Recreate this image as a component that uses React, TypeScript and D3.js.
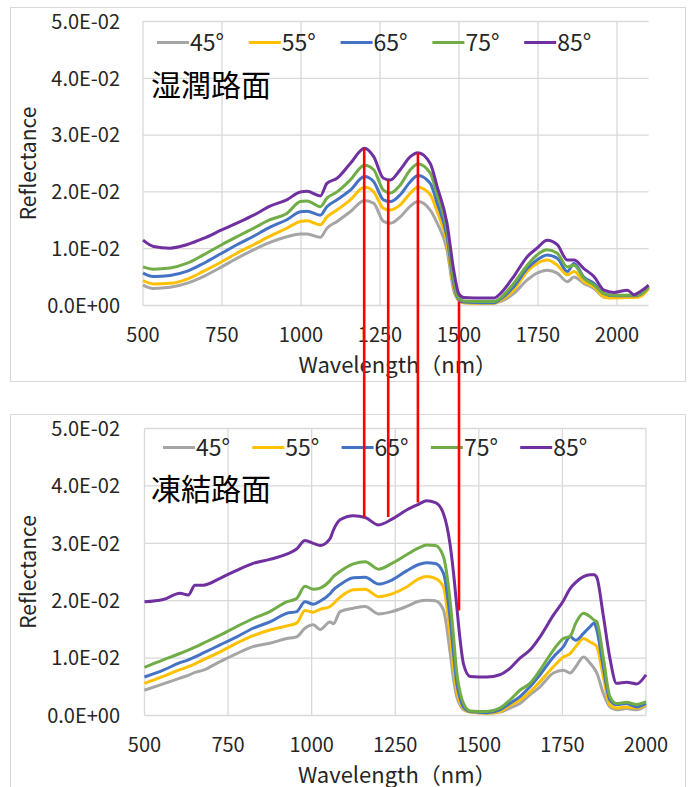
import React from "react";
import * as d3 from "d3";

const angleLabels = ["45°", "55°", "65°", "75°", "85°"];
const angleColors = ["#A5A5A5", "#FFC000", "#4472C4", "#70AD47", "#7030A0"];

const yTickValues = [0, 0.01, 0.02, 0.03, 0.04, 0.05];
const xTickValues = [500, 750, 1000, 1250, 1500, 1750, 2000];

// 湿潤路面 (wet road)
const wetWavelength = [
  500, 533, 586, 638, 691, 749, 797, 850, 902, 955,
  998, 1019, 1061, 1082, 1114, 1156, 1201, 1230, 1261, 1283,
  1314, 1346, 1370, 1409, 1431, 1462, 1483, 1499, 1515, 1578,
  1610, 1631, 1673, 1716, 1747, 1779, 1811, 1843, 1864, 1895,
  1927, 1959, 1990, 2033, 2054, 2075, 2100,
];
const wet45 = [
  0.0036, 0.0030, 0.0032, 0.0039, 0.0051, 0.0068, 0.0083, 0.0098, 0.0111, 0.0121,
  0.0126, 0.0126, 0.0120, 0.0136, 0.0148, 0.0165, 0.0185, 0.0180, 0.0148, 0.0145,
  0.0156, 0.0175, 0.0183, 0.0168, 0.0145, 0.0098, 0.0027, 0.0009, 0.0005, 0.0004,
  0.0004, 0.0007, 0.0021, 0.0045, 0.0057, 0.0062, 0.0057, 0.0042, 0.0050, 0.0039,
  0.0030, 0.0015, 0.0014, 0.0015, 0.0016, 0.0018, 0.0030,
];
const wet55 = [
  0.0044, 0.0038, 0.0039, 0.0046, 0.0060, 0.0077, 0.0092, 0.0107, 0.0122, 0.0136,
  0.0148, 0.0149, 0.0142, 0.0156, 0.0168, 0.0186, 0.0208, 0.0200, 0.0171, 0.0168,
  0.0177, 0.0198, 0.0208, 0.0195, 0.0165, 0.0110, 0.0033, 0.0010, 0.0005, 0.0004,
  0.0004, 0.0009, 0.0027, 0.0060, 0.0074, 0.0080, 0.0071, 0.0054, 0.0060, 0.0042,
  0.0033, 0.0015, 0.0013, 0.0014, 0.0014, 0.0016, 0.0030,
];
const wet65 = [
  0.0057, 0.0051, 0.0053, 0.0060, 0.0074, 0.0092, 0.0107, 0.0122, 0.0138, 0.0151,
  0.0165, 0.0166, 0.0159, 0.0174, 0.0186, 0.0203, 0.0227, 0.0218, 0.0186, 0.0183,
  0.0195, 0.0218, 0.0229, 0.0215, 0.0180, 0.0121, 0.0039, 0.0011, 0.0006, 0.0005,
  0.0005, 0.0011, 0.0033, 0.0065, 0.0080, 0.0089, 0.0083, 0.0060, 0.0074, 0.0050,
  0.0039, 0.0021, 0.0017, 0.0017, 0.0017, 0.0020, 0.0033,
];
const wet75 = [
  0.0068, 0.0064, 0.0066, 0.0074, 0.0089, 0.0107, 0.0121, 0.0136, 0.0151, 0.0162,
  0.0183, 0.0184, 0.0174, 0.0189, 0.0200, 0.0221, 0.0247, 0.0239, 0.0203, 0.0198,
  0.0212, 0.0239, 0.0249, 0.0233, 0.0195, 0.0133, 0.0045, 0.0013, 0.0008, 0.0007,
  0.0007, 0.0013, 0.0039, 0.0071, 0.0089, 0.0098, 0.0092, 0.0068, 0.0071, 0.0048,
  0.0036, 0.0021, 0.0018, 0.0018, 0.0018, 0.0020, 0.0033,
];
const wet85 = [
  0.0115, 0.0104, 0.0101, 0.0107, 0.0118, 0.0133, 0.0145, 0.0159, 0.0175, 0.0186,
  0.0200, 0.0201, 0.0193, 0.0215, 0.0224, 0.0250, 0.0277, 0.0262, 0.0224, 0.0221,
  0.0239, 0.0262, 0.0269, 0.0250, 0.0209, 0.0145, 0.0063, 0.0021, 0.0014, 0.0013,
  0.0013, 0.0021, 0.0051, 0.0086, 0.0101, 0.0115, 0.0107, 0.0080, 0.0080, 0.0065,
  0.0051, 0.0027, 0.0023, 0.0027, 0.0019, 0.0025, 0.0036,
];

// 凍結路面 (frozen road)
const frozenWavelength = [
  500, 556, 606, 631, 651, 676, 726, 776, 825, 875,
  925, 955, 980, 1005, 1025, 1055, 1065, 1085, 1125, 1160,
  1200, 1240, 1284, 1320, 1344, 1370, 1394, 1414, 1424, 1434,
  1444, 1454, 1474, 1524, 1563, 1593, 1623, 1653, 1683, 1723,
  1753, 1773, 1790, 1813, 1833, 1845, 1853, 1872, 1892, 1912,
  1942, 1972, 2000,
];
const frozen45 = [
  0.0044, 0.0055, 0.0065, 0.0070, 0.0075, 0.0079, 0.0094, 0.0108, 0.0120, 0.0126,
  0.0134, 0.0137, 0.0152, 0.0158, 0.0150, 0.0163, 0.0160, 0.0181, 0.0187, 0.0190,
  0.0177, 0.0181, 0.0190, 0.0199, 0.0201, 0.0200, 0.0184, 0.0110, 0.0065, 0.0033,
  0.0018, 0.0010, 0.0006, 0.0004, 0.0006, 0.0013, 0.0021, 0.0036, 0.0050, 0.0074,
  0.0079, 0.0074, 0.0085, 0.0102, 0.0091, 0.0082, 0.0074, 0.0039, 0.0015, 0.0010,
  0.0012, 0.0010, 0.0018,
];
const frozen55 = [
  0.0056, 0.0068, 0.0080, 0.0085, 0.0090, 0.0097, 0.0111, 0.0126, 0.0139, 0.0149,
  0.0156, 0.0161, 0.0183, 0.0180, 0.0185, 0.0190, 0.0195, 0.0206, 0.0219, 0.0220,
  0.0207, 0.0212, 0.0224, 0.0238, 0.0242, 0.0239, 0.0224, 0.0140, 0.0085, 0.0044,
  0.0022, 0.0013, 0.0006, 0.0004, 0.0007, 0.0018, 0.0027, 0.0041, 0.0059, 0.0085,
  0.0102, 0.0108, 0.0120, 0.0134, 0.0128, 0.0124, 0.0120, 0.0068, 0.0018, 0.0013,
  0.0015, 0.0013, 0.0019,
];
const frozen65 = [
  0.0067, 0.0079, 0.0092, 0.0097, 0.0102, 0.0109, 0.0123, 0.0137, 0.0152, 0.0163,
  0.0178, 0.0181, 0.0198, 0.0194, 0.0199, 0.0212, 0.0219, 0.0228, 0.0240, 0.0241,
  0.0229, 0.0236, 0.0252, 0.0263, 0.0266, 0.0265, 0.0248, 0.0170, 0.0110, 0.0056,
  0.0030, 0.0015, 0.0007, 0.0005, 0.0010, 0.0021, 0.0033, 0.0050, 0.0071, 0.0102,
  0.0120, 0.0137, 0.0131, 0.0143, 0.0155, 0.0161, 0.0149, 0.0085, 0.0027, 0.0019,
  0.0021, 0.0015, 0.0021,
];
const frozen75 = [
  0.0084, 0.0097, 0.0108, 0.0114, 0.0119, 0.0126, 0.0140, 0.0155, 0.0169, 0.0181,
  0.0198, 0.0204, 0.0225, 0.0220, 0.0222, 0.0235, 0.0242, 0.0251, 0.0264, 0.0268,
  0.0255, 0.0265, 0.0280, 0.0292, 0.0297, 0.0296, 0.0277, 0.0200, 0.0140, 0.0074,
  0.0040, 0.0021, 0.0008, 0.0007, 0.0013, 0.0027, 0.0044, 0.0056, 0.0079, 0.0114,
  0.0134, 0.0138, 0.0161, 0.0178, 0.0172, 0.0166, 0.0163, 0.0102, 0.0033, 0.0021,
  0.0023, 0.0019, 0.0024,
];
const frozen85 = [
  0.0198, 0.0202, 0.0213, 0.0210, 0.0227, 0.0227, 0.0239, 0.0253, 0.0265, 0.0272,
  0.0281, 0.0290, 0.0305, 0.0300, 0.0296, 0.0308, 0.0323, 0.0341, 0.0348, 0.0345,
  0.0332, 0.0342, 0.0358, 0.0368, 0.0374, 0.0371, 0.0352, 0.0298, 0.0250, 0.0190,
  0.0132, 0.0090, 0.0068, 0.0067, 0.0071, 0.0082, 0.0100, 0.0114, 0.0137, 0.0175,
  0.0200, 0.0221, 0.0232, 0.0242, 0.0245, 0.0245, 0.0240, 0.0175, 0.0100, 0.0056,
  0.0058, 0.0055, 0.0071,
];

// red marker lines: wavelength (upper chart), reflectance where they start (upper) and end (lower)
const markerWavelength = [1200, 1276, 1370, 1500];
const markerUpperValue = [0.0277, 0.0221, 0.0269, 0.0007];
const markerLowerValue = [0.0346, 0.0346, 0.0371, 0.0183];

const FONT = "'Noto Sans CJK JP', 'Noto Sans', sans-serif";
const GRID = "#D9D9D9";

const sci = (v: number) => {
  if (v === 0) return "0.0E+00";
  const [m, e] = v.toExponential(1).split("e");
  const n = parseInt(e, 10);
  return `${m}E${n < 0 ? "-" : "+"}${String(Math.abs(n)).padStart(2, "0")}`;
};

type PanelProps = {
  frameY: number;
  frameH: number;
  x: d3.ScaleLinear<number, number>;
  y: d3.ScaleLinear<number, number>;
  wavelengths: number[];
  series: number[][];
  surfaceLabel: string;
  legendY: number;
  legendX0: number;
  legendStep: number;
  labelY: number;
};

function Panel(p: PanelProps) {
  const [left, right] = p.x.range();
  const [bottom, top] = p.y.range();
  const line = d3
    .line<number>()
    .x((_, i) => p.x(p.wavelengths[i]))
    .y((d) => p.y(d))
    .curve(d3.curveMonotoneX);
  return (
    <g>
      <rect x={10.5} y={p.frameY + 0.5} width={675} height={p.frameH} fill="#fff" stroke={GRID} strokeWidth={1} />
      {yTickValues.map((v) => (
        <line key={"gy" + v} x1={left} x2={right} y1={p.y(v)} y2={p.y(v)} stroke={GRID} strokeWidth={1.3} />
      ))}
      {xTickValues.map((v) => (
        <line key={"gx" + v} x1={p.x(v)} x2={p.x(v)} y1={top} y2={bottom} stroke={GRID} strokeWidth={1.3} />
      ))}
      {yTickValues.map((v) => (
        <text key={"ty" + v} x={120} y={p.y(v)} dy="0.36em" textAnchor="end" fontSize={20} fill="#262626" fontFamily={FONT}>
          {sci(v)}
        </text>
      ))}
      {xTickValues.map((v) => (
        <text key={"tx" + v} x={p.x(v)} y={bottom + 36.5} textAnchor="middle" fontSize={20} fill="#262626" fontFamily={FONT}>
          {v}
        </text>
      ))}
      <text x={(left + right) / 2 + 2} y={bottom + 67} textAnchor="middle" fontSize={22} fill="#262626" fontFamily={FONT}>
        Wavelength（nm）
      </text>
      <text transform={`translate(36,${(top + bottom) / 2}) rotate(-90)`} textAnchor="middle" fontSize={21} fill="#262626" fontFamily={FONT}>
        Reflectance
      </text>
      {p.series.map((s, i) => (
        <path key={"s" + i} d={line(s) || ""} fill="none" stroke={angleColors[i]} strokeWidth={3} strokeLinejoin="round" />
      ))}
      {angleLabels.map((lab, i) => {
        const lx = p.legendX0 + i * p.legendStep;
        return (
          <g key={"lg" + i}>
            <line x1={lx} x2={lx + 32} y1={p.legendY} y2={p.legendY} stroke={angleColors[i]} strokeWidth={3} />
            <text x={lx + 33} y={p.legendY + 8} fontSize={23} fill="#262626" fontFamily={FONT}>
              {lab}
            </text>
          </g>
        );
      })}
      <text x={151} y={p.labelY} fontSize={30} fill="#000" fontFamily={FONT}>
        {p.surfaceLabel}
      </text>
    </g>
  );
}

export default function App() {
  const xWet = d3.scaleLinear().domain([500, 2100]).range([143, 648.6]);
  const yWet = d3.scaleLinear().domain([0, 0.05]).range([305.5, 21.5]);
  const xFrozen = d3.scaleLinear().domain([500, 2000]).range([144.5, 646]);
  const yFrozen = d3.scaleLinear().domain([0, 0.05]).range([715.5, 428.5]);

  return (
    <svg width={692} height={787} style={{ position: "absolute", left: 0, top: 0, background: "#fff" }}>
      <rect x={0} y={0} width={692} height={787} fill="#fff" />
      <Panel
        frameY={7}
        frameH={374}
        x={xWet}
        y={yWet}
        wavelengths={wetWavelength}
        series={[wet45, wet55, wet65, wet75, wet85]}
        surfaceLabel="湿潤路面"
        legendY={42.5}
        legendX0={157}
        legendStep={91.8}
        labelY={96}
      />
      <Panel
        frameY={414}
        frameH={400}
        x={xFrozen}
        y={yFrozen}
        wavelengths={frozenWavelength}
        series={[frozen45, frozen55, frozen65, frozen75, frozen85]}
        surfaceLabel="凍結路面"
        legendY={447.5}
        legendX0={163}
        legendStep={89.3}
        labelY={500}
      />
      {markerWavelength.map((w, i) => (
        <line
          key={"m" + i}
          x1={xWet(w)}
          x2={xWet(w)}
          y1={yWet(markerUpperValue[i])}
          y2={yFrozen(markerLowerValue[i])}
          stroke="#FF0000"
          strokeWidth={2.6}
        />
      ))}
    </svg>
  );
}
